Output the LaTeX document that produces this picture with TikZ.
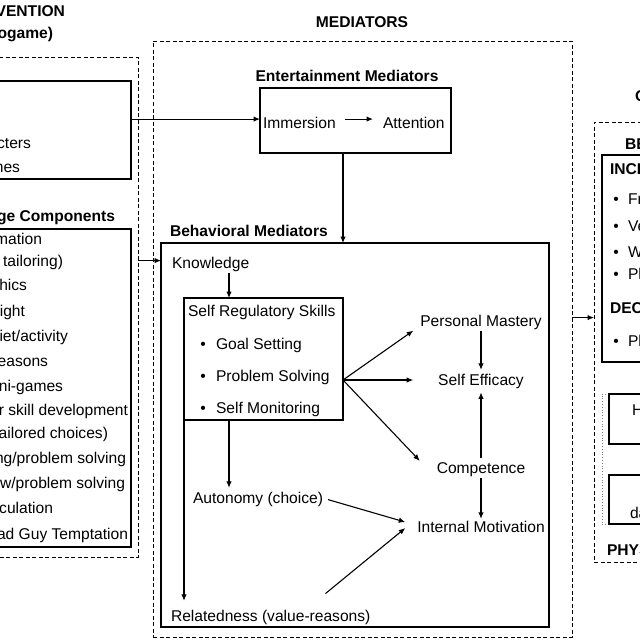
\documentclass[tikz,border=0pt]{standalone}
\usepackage{fontspec}
\setmainfont{Liberation Sans}
\usetikzlibrary{arrows.meta,fit}
\begin{document}
\begin{tikzpicture}[x=1pt,y=-1pt,
  txt/.style={inner sep=0pt,outer sep=0pt,yshift=-3.5pt,font=\fontsize{15.6}{18}\selectfont},
  btxt/.style={inner sep=0pt,outer sep=0pt,yshift=-3.5pt,font=\fontsize{15.6}{18}\selectfont\bfseries},
  sbox/.style={draw,line width=1.1pt,inner sep=0pt,outer sep=0pt},
  dbox/.style={draw,line width=0.8pt,dash pattern=on 4pt off 2.5pt,inner sep=0pt,outer sep=0pt},
  gbox/.style={draw=gray,line width=0.8pt,dotted,inner sep=0pt,outer sep=0pt},
  arr/.style={line width=1.1pt,-{Latex[length=6.5pt,width=5.5pt]}}]
\useasboundingbox (0,0) rectangle (640,640);
\clip (0,0) rectangle (640,640);

% ---------- titles ----------
\node[btxt,anchor=mid east] (tint) at (65,10) {INTERVENTION};
\node[btxt,anchor=mid east] (tvid) at (53,32) {(Videogame)};
\node[btxt,anchor=mid] (tmed) at (362,21) {MEDIATORS};
\node[btxt,anchor=mid west] (tout) at (635,95) {OUTCOMES};

% ---------- intervention ----------
\node[dbox,fit={(-20,57) (138,557)}] (intv) {};
\node[sbox,fit={(-150,81) (131,179)}] (ecomp) {};
\node[txt,anchor=mid east] (e3) at (31,142) {Characters};
\node[txt,anchor=mid east] (e4) at (20,166) {Cut scenes};

\node[btxt,anchor=mid east] (bch) at (115,215) {Behavior Change Components};
\node[sbox,fit={(-150,229) (131,547)}] (bcomp) {};
\node[txt,anchor=mid east] (b1) at (42,238) {Information};
\node[txt,anchor=mid east] (b2) at (63,260) {(with tailoring)};
\node[txt,anchor=mid east] (b3) at (27,284) {Graphics};
\node[txt,anchor=mid east] (b4) at (25,310) {Weight};
\node[txt,anchor=mid east] (b5) at (68,335) {Diet/activity};
\node[txt,anchor=mid east] (b6) at (48,360) {Reasons};
\node[txt,anchor=mid east] (b7) at (63,385) {Mini-games};
\node[txt,anchor=mid east] (b8) at (128,409) {Behavior skill development};
\node[txt,anchor=mid east] (b9) at (108,432) {(tailored choices)};
\node[txt,anchor=mid east] (b10) at (126,457) {Goal setting/problem solving};
\node[txt,anchor=mid east] (b11) at (125,482) {Review/problem solving};
\node[txt,anchor=mid east] (b12) at (53,507) {Calculation};
\node[txt,anchor=mid east] (b13) at (128,533) {Bad Guy Temptation};

% ---------- mediators ----------
\node[dbox,fit={(153,41) (572,637)}] (med) {};
\node[btxt,anchor=mid] (tent) at (347,75) {Entertainment Mediators};
\node[sbox,fit={(260,88) (451,153)}] (ent) {};
\node[txt,anchor=mid west] (imm) at (263,122) {Immersion};
\node[txt,anchor=mid west] (att) at (383,122) {Attention};

\node[btxt,anchor=mid west] (tbeh) at (170,230) {Behavioral Mediators};
\node[sbox,fit={(161,243) (549,627)}] (beh) {};
\node[txt,anchor=mid west] (know) at (172,262) {Knowledge};
\node[sbox,fit={(184,298) (343,420)}] (srs) {};
\node[txt,anchor=mid west] (srst) at (188,310) {Self Regulatory Skills};
\node[txt,anchor=mid] (d1) at (203,343) {\textbullet};
\node[txt,anchor=mid west] (gs) at (216,343) {Goal Setting};
\node[txt,anchor=mid] (d2) at (203,375) {\textbullet};
\node[txt,anchor=mid west] (ps) at (216,375) {Problem Solving};
\node[txt,anchor=mid] (d3) at (203,407) {\textbullet};
\node[txt,anchor=mid west] (sm) at (216,407) {Self Monitoring};

\node[txt,anchor=mid] (pm) at (481,320) {Personal Mastery};
\node[txt,anchor=mid] (se) at (481,379) {Self Efficacy};
\node[txt,anchor=mid] (comp) at (481,467) {Competence};
\node[txt,anchor=mid] (im) at (481,526) {Internal Motivation};
\node[txt,anchor=mid west] (aut) at (193,497) {Autonomy (choice)};
\node[txt,anchor=mid west] (rel) at (171,615) {Relatedness (value-reasons)};

\coordinate (kx) at (229,0);
\coordinate (vx) at (343,0);
\coordinate (fan) at (343,380);

% ---------- outcomes ----------
\node[dbox,fit={(594,122) (700,562)}] (outc) {};
\node[btxt,anchor=mid west] (tbo) at (625,143) {BEHAVIORAL OUTCOMES};
\node[sbox,fit={(602,155) (700,362)}] (bo) {};
\node[btxt,anchor=mid west] (inc) at (610,168) {INCREASE};
\node[txt,anchor=mid] (o1d) at (616,198) {\textbullet};
\node[txt,anchor=mid west] (o1) at (628,198) {Fruit};
\node[txt,anchor=mid] (o2d) at (616,225) {\textbullet};
\node[txt,anchor=mid west] (o2) at (628,225) {Vegetables};
\node[txt,anchor=mid] (o3d) at (616,251) {\textbullet};
\node[txt,anchor=mid west] (o3) at (628,251) {Water};
\node[txt,anchor=mid] (o4d) at (616,273) {\textbullet};
\node[txt,anchor=mid west] (o4) at (628,273) {Physical activity};
\node[btxt,anchor=mid west] (dec) at (610,307) {DECREASE};
\node[txt,anchor=mid] (o5d) at (616,340) {\textbullet};
\node[txt,anchor=mid west] (o5) at (628,340) {Physical inactivity};

\node[gbox,fit={(602,394) (700,524)}] (phys) {};
\node[sbox,fit={(609,394) (700,444)}] (p1) {};
\node[txt,anchor=mid west] (p1t) at (632,409) {Height};
\node[sbox,fit={(609,475) (700,524)}] (p2) {};
\node[txt,anchor=mid west] (p2t) at (630,512) {data};
\node[btxt,anchor=mid west] (tphy) at (607,549) {PHYSIOLOGICAL OUTCOMES};

% ---------- connectors ----------
\draw[arr] ([yshift=3.5pt]imm.west -| ecomp.east) -- ([yshift=3.5pt]imm.west -| ent.west);
\draw[arr] ([yshift=3.5pt]know.west -| intv.east) -- ([yshift=3.5pt]know.west -| beh.west);
\draw[arr] ([shift={(9pt,3.5pt)}]imm.east) -- ([shift={(-10pt,3.5pt)}]att.west);
\draw[arr] (ent.south -| vx) -- (beh.north -| vx);
\draw[arr] ([yshift=-2pt]know.south -| kx) -- (srs.north -| kx);
\draw[arr] (fan) -- ([shift={(-7pt,-8.5pt)}]pm.west);
\draw[arr] (fan) -- ([xshift=-25pt]fan -| se.west);
\draw[arr] (fan) -- ([shift={(-17pt,8.5pt)}]comp.west);
\draw[arr] ([yshift=-2pt]pm.south) -- ([yshift=4pt]se.north);
\draw[arr] ([yshift=4pt]comp.north) -- ([yshift=-4pt]se.south);
\draw[arr] ([yshift=-2pt]comp.south) -- ([yshift=2pt]im.north);
\draw[arr] (srs.south -| kx) -- ([yshift=4pt]aut.north -| kx);
\draw[arr] (srs.south west) -- ([yshift=9pt]rel.north -| srs.south west);
\draw[arr] ([shift={(5pt,-0.5pt)}]aut.east) -- ([shift={(-12pt,4.5pt)}]im.west);
\draw[arr] ([shift={(-45pt,23.5pt)}]rel.east) -- ([shift={(-12pt,-1.5pt)}]im.west);
\draw[arr] ([yshift=4.5pt]pm.east -| med.east) -- ([yshift=4.5pt]pm.east -| outc.west);
\end{tikzpicture}
\end{document}
